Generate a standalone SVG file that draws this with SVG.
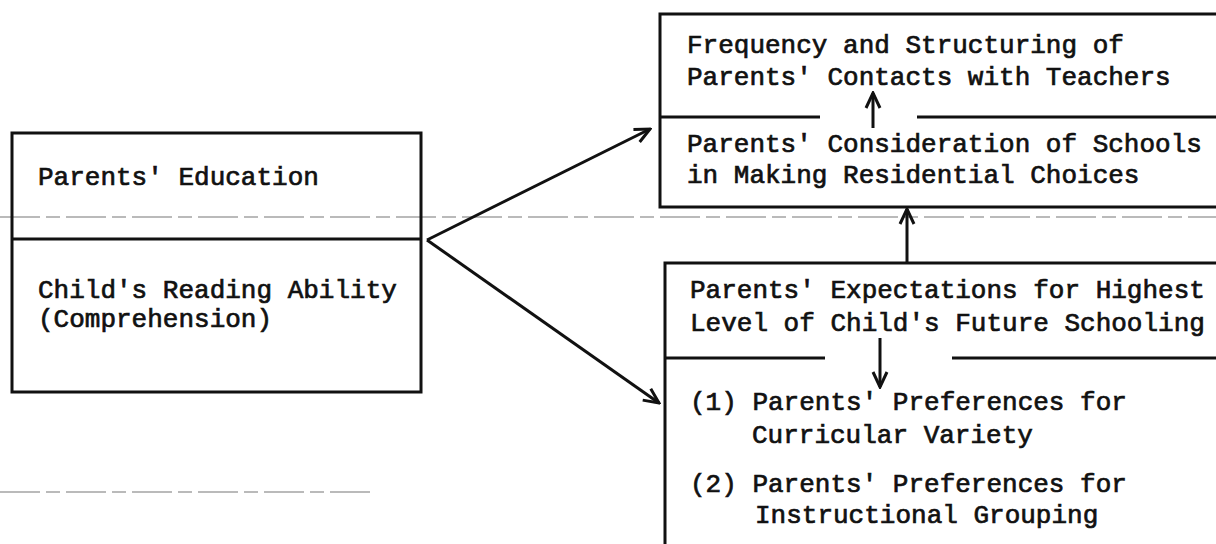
<svg xmlns="http://www.w3.org/2000/svg" width="1216" height="544" viewBox="0 0 1216 544">
<style>
.box{fill:none;stroke:#111;stroke-width:3}
.div{stroke:#111;stroke-width:3}
.t{font-family:"Liberation Mono","Courier New",monospace;font-size:26px;fill:#111;stroke:#111;stroke-width:0.7}
.c{stroke:#111;stroke-width:3;fill:none}
.scan{stroke:#777;stroke-width:1.2;fill:none;stroke-dasharray:40 6 14 6}
</style>
<defs>
<marker id="ah" viewBox="0 0 20 20" refX="18" refY="10" markerWidth="20" markerHeight="20" markerUnits="userSpaceOnUse" orient="auto">
<path d="M3,3 L18,10 L3,17" fill="none" stroke="#111" stroke-width="3" stroke-linejoin="miter"/>
</marker>
</defs>
<rect width="1216" height="544" fill="#fff"/>
<g id="scan-lines">
<path class="scan" d="M0,217 H1216"/>
<path class="scan" d="M0,492 H370"/>
</g>
<g id="node-left">
<rect class="box" x="12" y="133" width="409" height="259"/>
<line class="div" x1="12" y1="239" x2="421" y2="239"/>
<text class="t" x="38" y="185">Parents' Education</text>
<text class="t" x="38" y="298">Child's Reading Ability</text>
<text class="t" x="38" y="327">(Comprehension)</text>
</g>
<g id="node-top">
<rect class="box" x="660" y="14" width="562" height="193"/>
<line class="div" x1="660" y1="117" x2="820" y2="117"/>
<line class="div" x1="917" y1="117" x2="1216" y2="117"/>
<text class="t" x="687" y="53">Frequency and Structuring of</text>
<text class="t" x="687" y="85">Parents' Contacts with Teachers</text>
<text class="t" x="687" y="152">Parents' Consideration of Schools</text>
<text class="t" x="687" y="183">in Making Residential Choices</text>
</g>
<g id="node-bottom">
<rect class="box" x="665" y="263" width="557" height="300"/>
<line class="div" x1="665" y1="358" x2="825" y2="358"/>
<line class="div" x1="952" y1="358" x2="1216" y2="358"/>
<text class="t" x="690" y="298">Parents' Expectations for Highest</text>
<text class="t" x="690" y="331">Level of Child's Future Schooling</text>
<text class="t" x="690" y="410">(1) Parents' Preferences for</text>
<text class="t" x="752" y="443">Curricular Variety</text>
<text class="t" x="690" y="492">(2) Parents' Preferences for</text>
<text class="t" x="755" y="523">Instructional Grouping</text>
</g>
<g id="connectors">
<path class="c" d="M427,240 L650,129" marker-end="url(#ah)"/>
<path class="c" d="M427,240 L659,403" marker-end="url(#ah)"/>
<path class="c" d="M907,263 L907,209" marker-end="url(#ah)"/>
<path class="c" d="M873,128 L873,93" marker-end="url(#ah)"/>
<path class="c" d="M880,338 L880,387" marker-end="url(#ah)"/>
</g>
</svg>
